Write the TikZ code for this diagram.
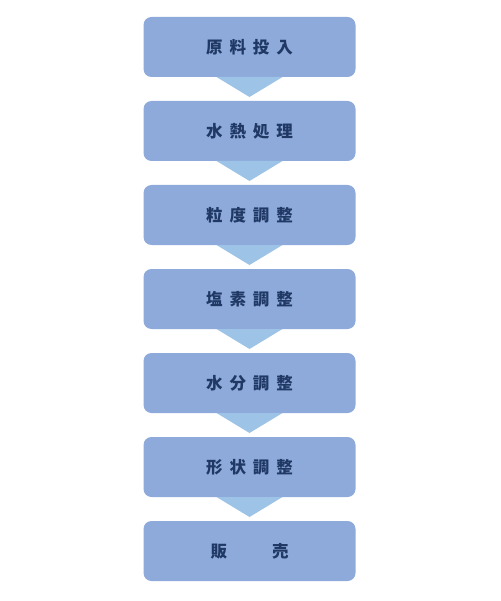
\documentclass[tikz,border=0pt]{standalone}
\usepackage{fontspec}
\newfontfamily\cjk{Noto Sans CJK JP}
\usepackage{tikz}
\usetikzlibrary{positioning,calc}
\definecolor{boxblue}{HTML}{8EAADB}
\definecolor{triblue}{HTML}{9DC3E6}
\definecolor{navy}{HTML}{1F3864}
\newcommand{\kgap}{\hspace{7pt}}

\begin{document}
\begin{tikzpicture}[x=1pt,y=-1pt,
  font=\cjk\bfseries\fontsize{16.5}{17}\selectfont,
  stepbox/.style={fill=boxblue,rounded corners=8pt,minimum width=212pt,minimum height=60pt,
    inner sep=0pt,outer sep=0pt,text=navy,align=center},
  tri/.style={fill=triblue}]
\useasboundingbox (0,0) rectangle (500,601);
\node[stepbox] (s1) at (249.5,47) {原\kgap 料\kgap 投\kgap 入};
\node[stepbox,below=24pt of s1] (s2) {水\kgap 熱\kgap 処\kgap 理};
\node[stepbox,below=24pt of s2] (s3) {粒\kgap 度\kgap 調\kgap 整};
\node[stepbox,below=24pt of s3] (s4) {塩\kgap 素\kgap 調\kgap 整};
\node[stepbox,below=24pt of s4] (s5) {水\kgap 分\kgap 調\kgap 整};
\node[stepbox,below=24pt of s5] (s6) {形\kgap 状\kgap 調\kgap 整};
\node[stepbox,below=24pt of s6] (s7) {販\hspace{45pt}売};
% arrows between the steps
\foreach \a/\b in {s1/s2,s2/s3,s3/s4,s4/s5,s5/s6,s6/s7}
  \fill[tri] ($(\a.south)+(-33,0)$) -- ($(\a.south)+(33,0)$) -- ($(\b.north)+(0,-4)$) -- cycle;
\end{tikzpicture}
\end{document}
